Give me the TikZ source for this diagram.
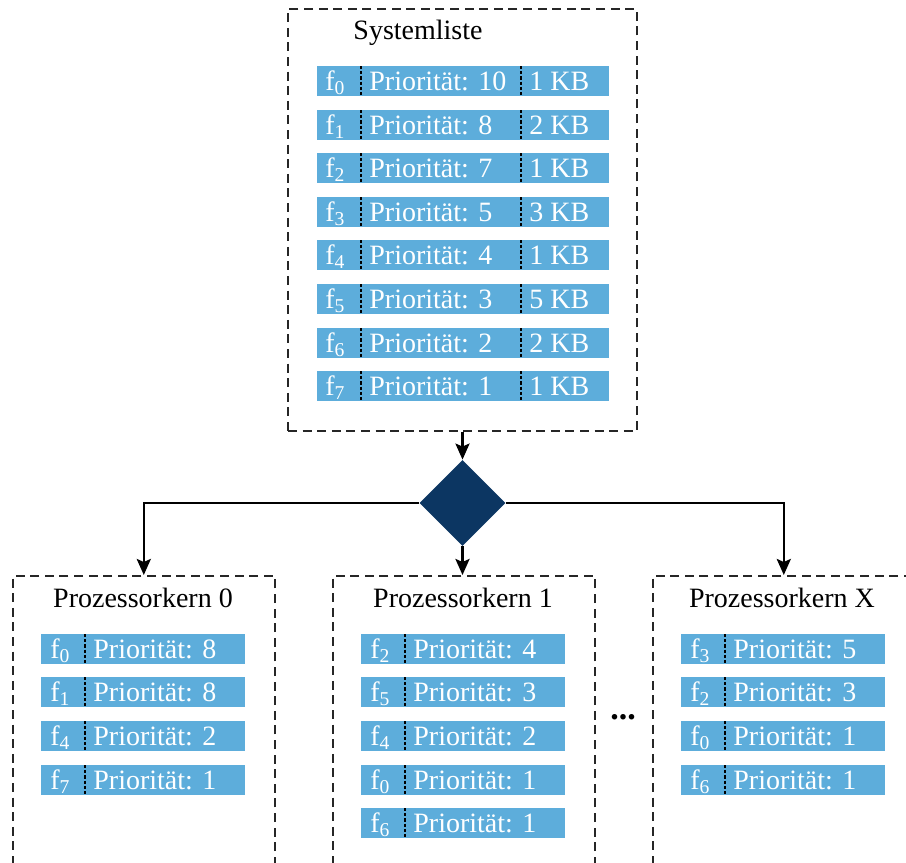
\documentclass[tikz,border=0pt]{standalone}
\usepackage{fontspec}
\setmainfont{Liberation Serif}
\usetikzlibrary{arrows.meta,shapes.geometric}
\definecolor{barblue}{RGB}{93,173,219}
\definecolor{navy}{RGB}{12,54,98}
\tikzset{
  box/.style={draw=black!85, line width=0.8pt, dash pattern=on 4.5pt off 2.8pt},
  sysbar/.style={fill=barblue, inner sep=0pt, minimum width=146pt, minimum height=15pt},
  corebar/.style={fill=barblue, inner sep=0pt, minimum width=102pt, minimum height=15pt},
  bartext/.style={text=white, inner sep=0pt, font=\fontsize{14}{16}\selectfont, anchor=base west},
  title/.style={inner sep=0pt, font=\fontsize{14}{16}\selectfont, anchor=base},
  divider/.style={draw=black, line width=0.55pt, dash pattern=on 1.6pt off 1pt},
  conn/.style={draw=black, line width=1.3pt},
  arr/.style={conn, -{Stealth[length=8pt,width=7pt,inset=1.5pt]}},
}
\newcommand\sysrow[5]{%
  \node[sysbar] (#1) at (463,#2) {};
  \node[bartext] (#1f) at (325,#2+9) {f\textsubscript{#3}};
  \node[bartext] (#1p) at (369,#2+9) {Priorität: #4};
  \node[bartext] (#1k) at (529,#2+9) {#5};
  \draw[divider] (361,#2-15) -- (361,#2+15);
  \draw[divider] (521,#2-15) -- (521,#2+15);
}
\newcommand\corerow[4]{% name, xleft, y, index
  \node[corebar, anchor=west] (#1) at (#2,#3) {};
  \node[bartext] (#1f) at (#2+9,#3+9) {f\textsubscript{#4}};
}
\newcommand\coreprio[4]{%
  \node[bartext] (#1p) at (#2+52,#3+9) {Priorität: #4};
  \draw[divider] (#2+44,#3-15) -- (#2+44,#3+15);
}
\begin{document}
\begin{tikzpicture}[x=0.5pt,y=-0.5pt]
\clip (0,0) rectangle (906,863);
\fill[white] (0,0) rectangle (906,863);
% top box
\node[box, minimum width=174.5pt, minimum height=211pt, inner sep=0pt] (sys) at (462.5,220) {};
\node[title] (systitle) at (418,39) {Systemliste};
\sysrow{s0}{81}{0}{10}{1 KB}
\sysrow{s1}{125}{1}{8}{2 KB}
\sysrow{s2}{168}{2}{7}{1 KB}
\sysrow{s3}{212}{3}{5}{3 KB}
\sysrow{s4}{255}{4}{4}{1 KB}
\sysrow{s5}{299}{5}{3}{5 KB}
\sysrow{s6}{343}{6}{2}{2 KB}
\sysrow{s7}{386}{7}{1}{1 KB}
% diamond
\node[diamond, fill=navy, inner sep=0pt, minimum width=43pt, minimum height=43pt] (dec) at (462.5,503) {};
% core boxes
\node[box, minimum width=131pt, minimum height=160pt, inner sep=0pt, anchor=north west] (c0) at (12,575) {};
\node[box, minimum width=131pt, minimum height=160pt, inner sep=0pt, anchor=north west] (c1) at (332,575) {};
\node[box, minimum width=131pt, minimum height=160pt, inner sep=0pt, anchor=north west] (cx) at (652,575) {};
\node[title] (t0) at (143,607) {Prozessorkern 0};
\node[title] (t1) at (463,607) {Prozessorkern 1};
\node[title] (tx) at (782,607) {Prozessorkern X};
% core 0
\corerow{a0}{41}{649}{0}\coreprio{a0}{41}{649}{8}
\corerow{a1}{41}{692}{1}\coreprio{a1}{41}{692}{8}
\corerow{a2}{41}{736}{4}\coreprio{a2}{41}{736}{2}
\corerow{a3}{41}{780}{7}\coreprio{a3}{41}{780}{1}
% core 1
\corerow{b0}{361}{649}{2}\coreprio{b0}{361}{649}{4}
\corerow{b1}{361}{692}{5}\coreprio{b1}{361}{692}{3}
\corerow{b2}{361}{736}{4}\coreprio{b2}{361}{736}{2}
\corerow{b3}{361}{780}{0}\coreprio{b3}{361}{780}{1}
\corerow{b4}{361}{823}{6}\coreprio{b4}{361}{823}{1}
% core X
\corerow{x0}{681}{649}{3}\coreprio{x0}{681}{649}{5}
\corerow{x1}{681}{692}{2}\coreprio{x1}{681}{692}{3}
\corerow{x2}{681}{736}{0}\coreprio{x2}{681}{736}{1}
\corerow{x3}{681}{780}{6}\coreprio{x3}{681}{780}{1}
% dots
\node[inner sep=0pt, font=\fontsize{17}{19}\selectfont\bfseries] (dots) at (623,717) {...};
% connectors
\draw[arr] (sys.south) -- (dec.north);
\draw[arr] (dec.south) -- (dec.south |- c1.north);
\draw[arr] (dec.west) -| (c0.north);
\draw[arr] (dec.east) -| (cx.north);
\end{tikzpicture}
\end{document}
